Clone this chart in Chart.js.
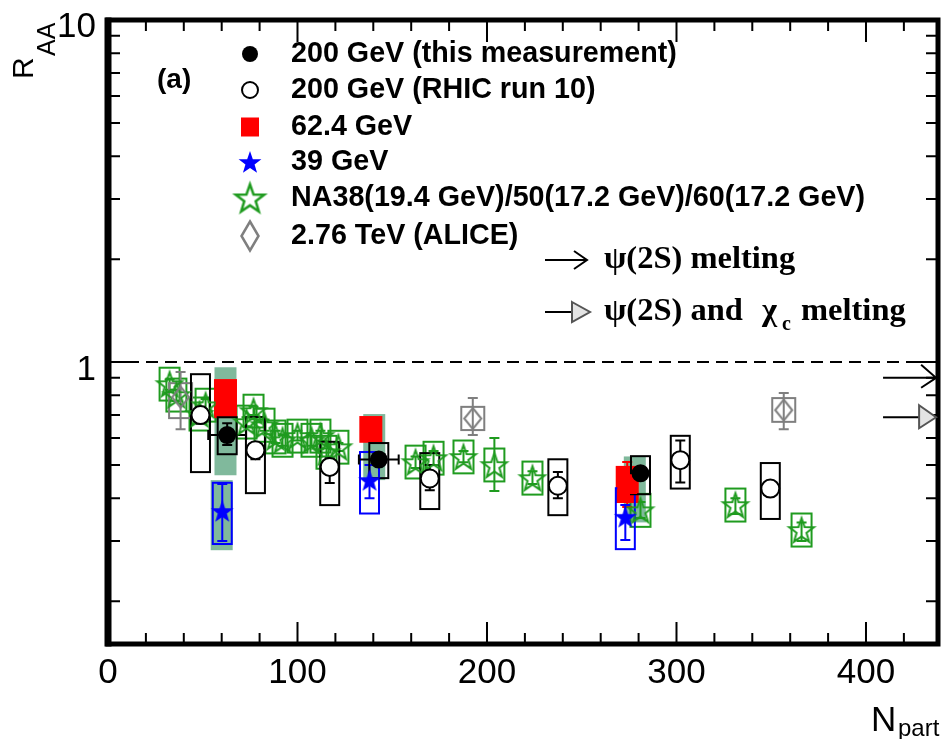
<!DOCTYPE html>
<html>
<head>
<meta charset="utf-8">
<title>J/psi R_AA vs N_part</title>
<script src="https://cdn.jsdelivr.net/npm/chart.js@4.4.1/dist/chart.umd.min.js"></script>
<style>
  html, body { margin: 0; padding: 0; background: #fff; }
  #chart-box { width: 941px; height: 739px; }
</style>
</head>
<body>
<div id="chart-box"><canvas id="raa-chart" width="941" height="739"></canvas></div>
<script>
// ---- values ----

// 200 GeV (this measurement)
const thisNpart = [62.9, 142.9, 281];
const thisRaa = [0.612, 0.519, 0.473];
const thisNpartErr = [10, 10.5, 5];
const thisStatLo = [0.572, 0.503, 0.455];
const thisStatHi = [0.663, 0.537, 0.492];
const thisSysLo = [0.538, 0.458, 0.411];
const thisSysHi = [0.690, 0.580, 0.531];

// 200 GeV (RHIC run 10)
const run10Npart = [48.8, 77.8, 117, 169.8, 237.4, 302, 349.5];
const run10Raa = [0.70, 0.553, 0.494, 0.457, 0.435, 0.517, 0.427];
const run10StatLo = [0.66, 0.52, 0.443, 0.422, 0.40, 0.445, 0.41];
const run10StatHi = [0.74, 0.56, 0.524, 0.50, 0.477, 0.59, 0.445];
const run10SysLo = [0.477, 0.414, 0.382, 0.372, 0.357, 0.427, 0.348];
const run10SysHi = [0.922, 0.691, 0.585, 0.542, 0.520, 0.609, 0.507];

// 62.4 GeV
const npart62 = [62, 138.7, 274];
const raa62 = [0.78, 0.64, 0.44];
const statLo62 = [0.70, 0.60, 0.377];
const statHi62 = [0.87, 0.68, 0.511];
const sysLo62 = [0.691, 0.585, 0.39];
const sysHi62 = [0.886, 0.691, 0.494];

// 39 GeV
const npart39 = [60.3, 138, 273];
const raa39 = [0.367, 0.452, 0.353];
const statLo39 = [0.30, 0.40, 0.302];
const statHi39 = [0.44, 0.50, 0.382];
const sysLo39 = [0.294, 0.361, 0.284];
const sysHi39 = [0.444, 0.546, 0.428];

// global uncertainty bands (shaded)
const globalNpart = [62, 60, 140.5, 278];
const globalLo = [0.467, 0.282, 0.452, 0.34];
const globalHi = [0.966, 0.452, 0.705, 0.53];

// NA38 / NA50 / NA60
const naNpart = [32.5, 36.1, 48.3, 51.5, 73.1, 76.8, 82.6, 88.4, 92.1, 100.0, 107.4,
  112.1, 115.3, 121.6, 162.3, 171.8, 187.6, 203.9, 224.0, 281.0, 331.1, 366.0];
const naRaa = [0.862, 0.801, 0.705, 0.748, 0.668, 0.719, 0.654, 0.604, 0.591, 0.608, 0.591,
  0.608, 0.545, 0.564, 0.510, 0.524, 0.528, 0.500, 0.458, 0.369, 0.382, 0.323];
const naStatLo = [0.83, 0.77, 0.68, 0.72, 0.65, 0.70, 0.63, 0.58, 0.57, 0.59, 0.57,
  0.59, 0.53, 0.55, 0.49, 0.50, 0.51, 0.42, 0.44, 0.35, 0.36, 0.30];
const naStatHi = [0.89, 0.83, 0.73, 0.78, 0.69, 0.74, 0.68, 0.63, 0.61, 0.63, 0.61,
  0.63, 0.56, 0.58, 0.53, 0.55, 0.55, 0.60, 0.48, 0.39, 0.40, 0.34];
const naSysLo = [0.772, 0.717, 0.631, 0.670, 0.598, 0.644, 0.585, 0.541, 0.529, 0.544, 0.529,
  0.544, 0.488, 0.505, 0.457, 0.469, 0.473, 0.448, 0.410, 0.330, 0.342, 0.289];
const naSysHi = [0.963, 0.895, 0.788, 0.836, 0.746, 0.803, 0.731, 0.675, 0.660, 0.679, 0.660,
  0.679, 0.609, 0.630, 0.570, 0.585, 0.590, 0.559, 0.512, 0.412, 0.427, 0.361];

// 2.76 TeV (ALICE)
const aliceNpart = [38.3, 192.5, 356.6];
const aliceRaa = [0.79, 0.684, 0.724];
const aliceStatLo = [0.637, 0.612, 0.637];
const aliceStatHi = [0.935, 0.785, 0.813];
const aliceSysLo = [0.686, 0.633, 0.669];
const aliceSysHi = [0.868, 0.740, 0.785];

// melting expectations drawn at the right edge
const meltingRaa = [0.90, 0.69];
const meltingFromNpart = 409;
const meltingToNpart = 437;

// axes
const xTickMajor = [0, 100, 200, 300, 400];
const xTickLabels = ['0', '100', '200', '300', '400'];
const xTickMinor = [20, 40, 60, 80, 120, 140, 160, 180, 220, 240, 260, 280, 320, 340, 360, 380, 420];
const yTickMajor = [1, 10];
const yTickLabels = ['1', '10'];
const yTickMinor = [0.2, 0.3, 0.4, 0.5, 0.6, 0.7, 0.8, 0.9, 2, 3, 4, 5, 6, 7, 8, 9];

const legendLabels = [
  '200 GeV (this measurement)',
  '200 GeV (RHIC run 10)',
  '62.4 GeV',
  '39 GeV',
  'NA38(19.4 GeV)/50(17.2 GeV)/60(17.2 GeV)',
  '2.76 TeV (ALICE)'
];

// ---- styling ----
const GREEN = '#1f9b1f';
const BLUE = '#0000ff';
const RED = '#ff0000';
const GRAY = '#7f7f7f';
const TEAL = '#80b99c';
const SANS = '"Liberation Sans", Arial, Helvetica, sans-serif';
const SERIF = '"Liberation Serif", "Times New Roman", serif';

/**
 * Build a five-point star marker as a small canvas
 */
function makeStar(outer, fill, stroke, lw) {
  const size = Math.ceil(outer * 2 + lw * 2 + 4);
  const c = document.createElement('canvas');
  c.width = size;
  c.height = size;
  const g = c.getContext('2d');
  const cx = size / 2, cy = size / 2 + outer * 0.09;
  g.beginPath();
  for (let i = 0; i < 10; i++) {
    const r = i % 2 === 0 ? outer : outer * 0.4;
    const a = -Math.PI / 2 + i * Math.PI / 5;
    const px = cx + r * Math.cos(a), py = cy + r * Math.sin(a);
    if (i === 0) g.moveTo(px, py); else g.lineTo(px, py);
  }
  g.closePath();
  if (fill) { g.fillStyle = fill; g.fill(); }
  if (stroke) { g.strokeStyle = stroke; g.lineWidth = lw; g.stroke(); }
  return c;
}

/**
 * Build an open diamond marker
 */
function makeDiamond(w, h, stroke, lw) {
  const c = document.createElement('canvas');
  c.width = w + lw * 2 + 2;
  c.height = h + lw * 2 + 2;
  const g = c.getContext('2d');
  const cx = c.width / 2, cy = c.height / 2;
  g.beginPath();
  g.moveTo(cx, cy - h / 2);
  g.lineTo(cx + w / 2, cy);
  g.lineTo(cx, cy + h / 2);
  g.lineTo(cx - w / 2, cy);
  g.closePath();
  g.strokeStyle = stroke;
  g.lineWidth = lw;
  g.stroke();
  return c;
}

const blueStar = makeStar(12, BLUE, null, 0);
const greenStar = makeStar(13, null, GREEN, 2);
const grayDiamond = makeDiamond(17, 21, GRAY, 2);
const legendBlueStar = makeStar(12, BLUE, null, 0);
const legendGreenStar = makeStar(15, null, GREEN, 2.5);
const legendDiamond = makeDiamond(17, 29, GRAY, 2.5);

function points(xs, ys) {
  return xs.map((x, i) => ({ x: x, y: ys[i] }));
}

// boxes and error bars, drawn under the markers
const decorSeries = [
  { npart: naNpart, lo: naSysLo, hi: naSysHi, statLo: naStatLo, statHi: naStatHi, color: GREEN, half: 10 },
  { npart: aliceNpart, lo: aliceSysLo, hi: aliceSysHi, statLo: aliceStatLo, statHi: aliceStatHi, color: GRAY, half: 11.5 },
  { npart: run10Npart, lo: run10SysLo, hi: run10SysHi, statLo: run10StatLo, statHi: run10StatHi, color: '#000', half: 9.5 },
  { npart: npart62, lo: sysLo62, hi: sysHi62, statLo: statLo62, statHi: statHi62, color: RED, half: 10.5, fill: RED },
  { npart: npart39, lo: sysLo39, hi: sysHi39, statLo: statLo39, statHi: statHi39, color: BLUE, half: 9.5 },
  { npart: thisNpart, lo: thisSysLo, hi: thisSysHi, statLo: thisStatLo, statHi: thisStatHi, color: '#000', half: 9.5, xErr: thisNpartErr, yMid: thisRaa }
];

const decorPlugin = {
  id: 'raaDecor',
  beforeDatasetsDraw(chart) {
    const ctx = chart.ctx;
    const xs = chart.scales.x, ys = chart.scales.y;
    const area = chart.chartArea;

    ctx.save();
    // shaded global uncertainty
    ctx.fillStyle = TEAL;
    globalNpart.forEach((n, i) => {
      const px = xs.getPixelForValue(n);
      const top = ys.getPixelForValue(globalHi[i]);
      const bot = ys.getPixelForValue(globalLo[i]);
      ctx.fillRect(px - 11, top, 22, bot - top);
    });

    // unity line
    ctx.strokeStyle = '#000';
    ctx.lineWidth = 2;
    ctx.setLineDash([12, 7]);
    const y1 = ys.getPixelForValue(1);
    ctx.beginPath();
    ctx.moveTo(area.left, y1);
    ctx.lineTo(area.right, y1);
    ctx.stroke();
    ctx.setLineDash([]);

    decorSeries.forEach(s => {
      ctx.strokeStyle = s.color;
      ctx.lineWidth = 2;
      s.npart.forEach((n, i) => {
        const px = xs.getPixelForValue(n);
        const top = ys.getPixelForValue(s.hi[i]);
        const bot = ys.getPixelForValue(s.lo[i]);
        if (s.fill) {
          ctx.fillStyle = s.fill;
          ctx.fillRect(px - s.half, top, s.half * 2, bot - top);
        }
        ctx.strokeRect(px - s.half, top, s.half * 2, bot - top);
        // stat error bar with caps
        const st = ys.getPixelForValue(s.statHi[i]);
        const sb = ys.getPixelForValue(s.statLo[i]);
        ctx.beginPath();
        ctx.moveTo(px, st); ctx.lineTo(px, sb);
        ctx.moveTo(px - 5, st); ctx.lineTo(px + 5, st);
        ctx.moveTo(px - 5, sb); ctx.lineTo(px + 5, sb);
        if (s.xErr) {
          const py = ys.getPixelForValue(s.yMid[i]);
          const xl = xs.getPixelForValue(n - s.xErr[i]);
          const xr = xs.getPixelForValue(n + s.xErr[i]);
          ctx.moveTo(xl, py); ctx.lineTo(xr, py);
          ctx.moveTo(xl, py - 5); ctx.lineTo(xl, py + 5);
          ctx.moveTo(xr, py - 5); ctx.lineTo(xr, py + 5);
        }
        ctx.stroke();
      });
    });
    ctx.restore();
  },

  afterDraw(chart) {
    const ctx = chart.ctx;
    const xs = chart.scales.x, ys = chart.scales.y;
    const a = chart.chartArea;
    ctx.save();
    ctx.strokeStyle = '#000';
    ctx.fillStyle = '#000';

    // inward ticks on all four sides
    ctx.lineWidth = 2;
    ctx.beginPath();
    const tickX = (v, len) => {
      const px = xs.getPixelForValue(v);
      ctx.moveTo(px, a.bottom); ctx.lineTo(px, a.bottom - len);
      ctx.moveTo(px, a.top); ctx.lineTo(px, a.top + len);
    };
    const tickY = (v, len) => {
      const py = ys.getPixelForValue(v);
      ctx.moveTo(a.left, py); ctx.lineTo(a.left + len, py);
      ctx.moveTo(a.right, py); ctx.lineTo(a.right - len, py);
    };
    xTickMajor.forEach(v => tickX(v, 22));
    xTickMinor.forEach(v => tickX(v, 11));
    yTickMajor.forEach(v => tickY(v, 28));
    yTickMinor.forEach(v => tickY(v, 12));
    ctx.stroke();

    // frame
    ctx.lineWidth = 5;
    ctx.strokeRect(a.left, a.top, a.right - a.left, a.bottom - a.top);
    ctx.lineWidth = 7;
    ctx.beginPath();
    ctx.moveTo(a.left, a.top - 2.5); ctx.lineTo(a.left, a.bottom + 2.5);
    ctx.stroke();

    // tick labels
    ctx.font = '35px ' + SANS;
    ctx.textAlign = 'center';
    ctx.textBaseline = 'alphabetic';
    xTickMajor.forEach((v, i) => {
      ctx.fillText(xTickLabels[i], xs.getPixelForValue(v), 683);
    });
    ctx.textAlign = 'right';
    yTickMajor.forEach((v, i) => {
      ctx.fillText(yTickLabels[i], 96, ys.getPixelForValue(v) + (v === 10 ? 17 : 18));
    });

    // axis titles
    ctx.textAlign = 'left';
    ctx.save();
    ctx.translate(33, 79);
    ctx.rotate(-Math.PI / 2);
    ctx.font = '30px ' + SANS;
    ctx.fillText('R', 0, 0);
    ctx.restore();
    ctx.save();
    ctx.translate(55, 56);
    ctx.rotate(-Math.PI / 2);
    ctx.font = '25px ' + SANS;
    ctx.fillText('AA', 0, 0);
    ctx.restore();

    ctx.font = '35px ' + SANS;
    ctx.fillText('N', 871, 731);
    ctx.font = '24px ' + SANS;
    ctx.fillText('part', 898, 736);

    // panel tag
    ctx.font = 'bold 28px ' + SANS;
    ctx.textBaseline = 'middle';
    ctx.fillText('(a)', 157, 80);

    // legend
    const rowY = [54, 90, 127, 162, 198, 236];
    const mx = 250;
    ctx.fillStyle = '#000';
    ctx.beginPath(); ctx.arc(mx, rowY[0], 8, 0, Math.PI * 2); ctx.fill();
    ctx.lineWidth = 2;
    ctx.beginPath(); ctx.arc(mx, rowY[1], 8, 0, Math.PI * 2); ctx.stroke();
    ctx.fillStyle = RED;
    ctx.fillRect(mx - 9, rowY[2] - 9.5, 18, 19);
    ctx.drawImage(legendBlueStar, mx - legendBlueStar.width / 2, rowY[3] - legendBlueStar.height / 2);
    ctx.drawImage(legendGreenStar, mx - legendGreenStar.width / 2, rowY[4] - legendGreenStar.height / 2);
    ctx.drawImage(legendDiamond, mx - legendDiamond.width / 2, rowY[5] - legendDiamond.height / 2);
    ctx.fillStyle = '#000';
    ctx.font = 'bold 28.7px ' + SANS;
    legendLabels.forEach((t, i) => ctx.fillText(t, 291, rowY[i]));

    // melting annotations
    ctx.lineWidth = 2;
    ctx.strokeStyle = '#000';
    ctx.beginPath();
    ctx.moveTo(545, 260); ctx.lineTo(587, 260);
    ctx.moveTo(574, 251); ctx.lineTo(587, 260); ctx.lineTo(574, 269);
    ctx.moveTo(545, 312); ctx.lineTo(572, 312);
    ctx.stroke();
    ctx.beginPath();
    ctx.moveTo(572, 302); ctx.lineTo(590, 312); ctx.lineTo(572, 322); ctx.closePath();
    ctx.fillStyle = '#e4e4e4'; ctx.fill();
    ctx.strokeStyle = '#555'; ctx.stroke();

    ctx.fillStyle = '#000';
    ctx.textBaseline = 'alphabetic';
    ctx.font = 'bold 32.5px ' + SERIF;
    ctx.fillText('\u03C8(2S) melting', 604, 268);
    ctx.fillText('\u03C8(2S) and', 604, 320);
    ctx.fillText('\u03C7', 762, 320);
    ctx.font = 'bold 20px ' + SERIF;
    ctx.fillText('c', 782, 330);
    ctx.font = 'bold 32.5px ' + SERIF;
    ctx.fillText('melting', 801, 320);

    // melting expectations at the right edge
    const mx0 = xs.getPixelForValue(meltingFromNpart);
    const mx1 = xs.getPixelForValue(meltingToNpart);
    const m0 = ys.getPixelForValue(meltingRaa[0]);
    const m1 = ys.getPixelForValue(meltingRaa[1]);
    ctx.strokeStyle = '#000';
    ctx.lineWidth = 2;
    ctx.beginPath();
    ctx.moveTo(mx0, m0); ctx.lineTo(mx1, m0);
    ctx.moveTo(mx1 - 15, m0 - 13); ctx.lineTo(mx1, m0); ctx.lineTo(mx1 - 15, m0 + 10);
    ctx.moveTo(mx0, m1); ctx.lineTo(mx1 - 17, m1);
    ctx.stroke();
    ctx.beginPath();
    ctx.moveTo(mx1 - 17, m1 - 12); ctx.lineTo(mx1, m1); ctx.lineTo(mx1 - 17, m1 + 11); ctx.closePath();
    ctx.fillStyle = '#e4e4e4'; ctx.fill();
    ctx.strokeStyle = '#555'; ctx.stroke();

    ctx.restore();
  }
};

document.addEventListener('DOMContentLoaded', function() {
  const ctx = document.getElementById('raa-chart').getContext('2d');
  new Chart(ctx, {
    type: 'scatter',
    data: {
      datasets: [
        { label: legendLabels[0], data: points(thisNpart, thisRaa), pointStyle: 'circle',
          pointRadius: 9, backgroundColor: '#000', borderColor: '#000', borderWidth: 0 },
        { label: legendLabels[2], data: points(npart62, raa62), pointStyle: 'rect',
          pointRadius: 14, backgroundColor: RED, borderColor: RED, borderWidth: 0 },
        { label: legendLabels[3], data: points(npart39, raa39), pointStyle: blueStar },
        { label: legendLabels[1], data: points(run10Npart, run10Raa), pointStyle: 'circle',
          pointRadius: 9, backgroundColor: '#fff', borderColor: '#000', borderWidth: 2 },
        { label: legendLabels[5], data: points(aliceNpart, aliceRaa), pointStyle: grayDiamond },
        { label: legendLabels[4], data: points(naNpart, naRaa), pointStyle: greenStar }
      ]
    },
    options: {
      responsive: false,
      animation: false,
      events: [],
      devicePixelRatio: 1,
      layout: { autoPadding: false, padding: { left: 108, right: 3, top: 20, bottom: 95 } },
      scales: {
        x: { type: 'linear', min: 0, max: 438, display: false },
        y: { type: 'logarithmic', min: 0.15, max: 10, display: false }
      },
      plugins: {
        legend: { display: false },
        tooltip: { enabled: false }
      }
    },
    plugins: [decorPlugin]
  });
});
</script>
</body>
</html>
